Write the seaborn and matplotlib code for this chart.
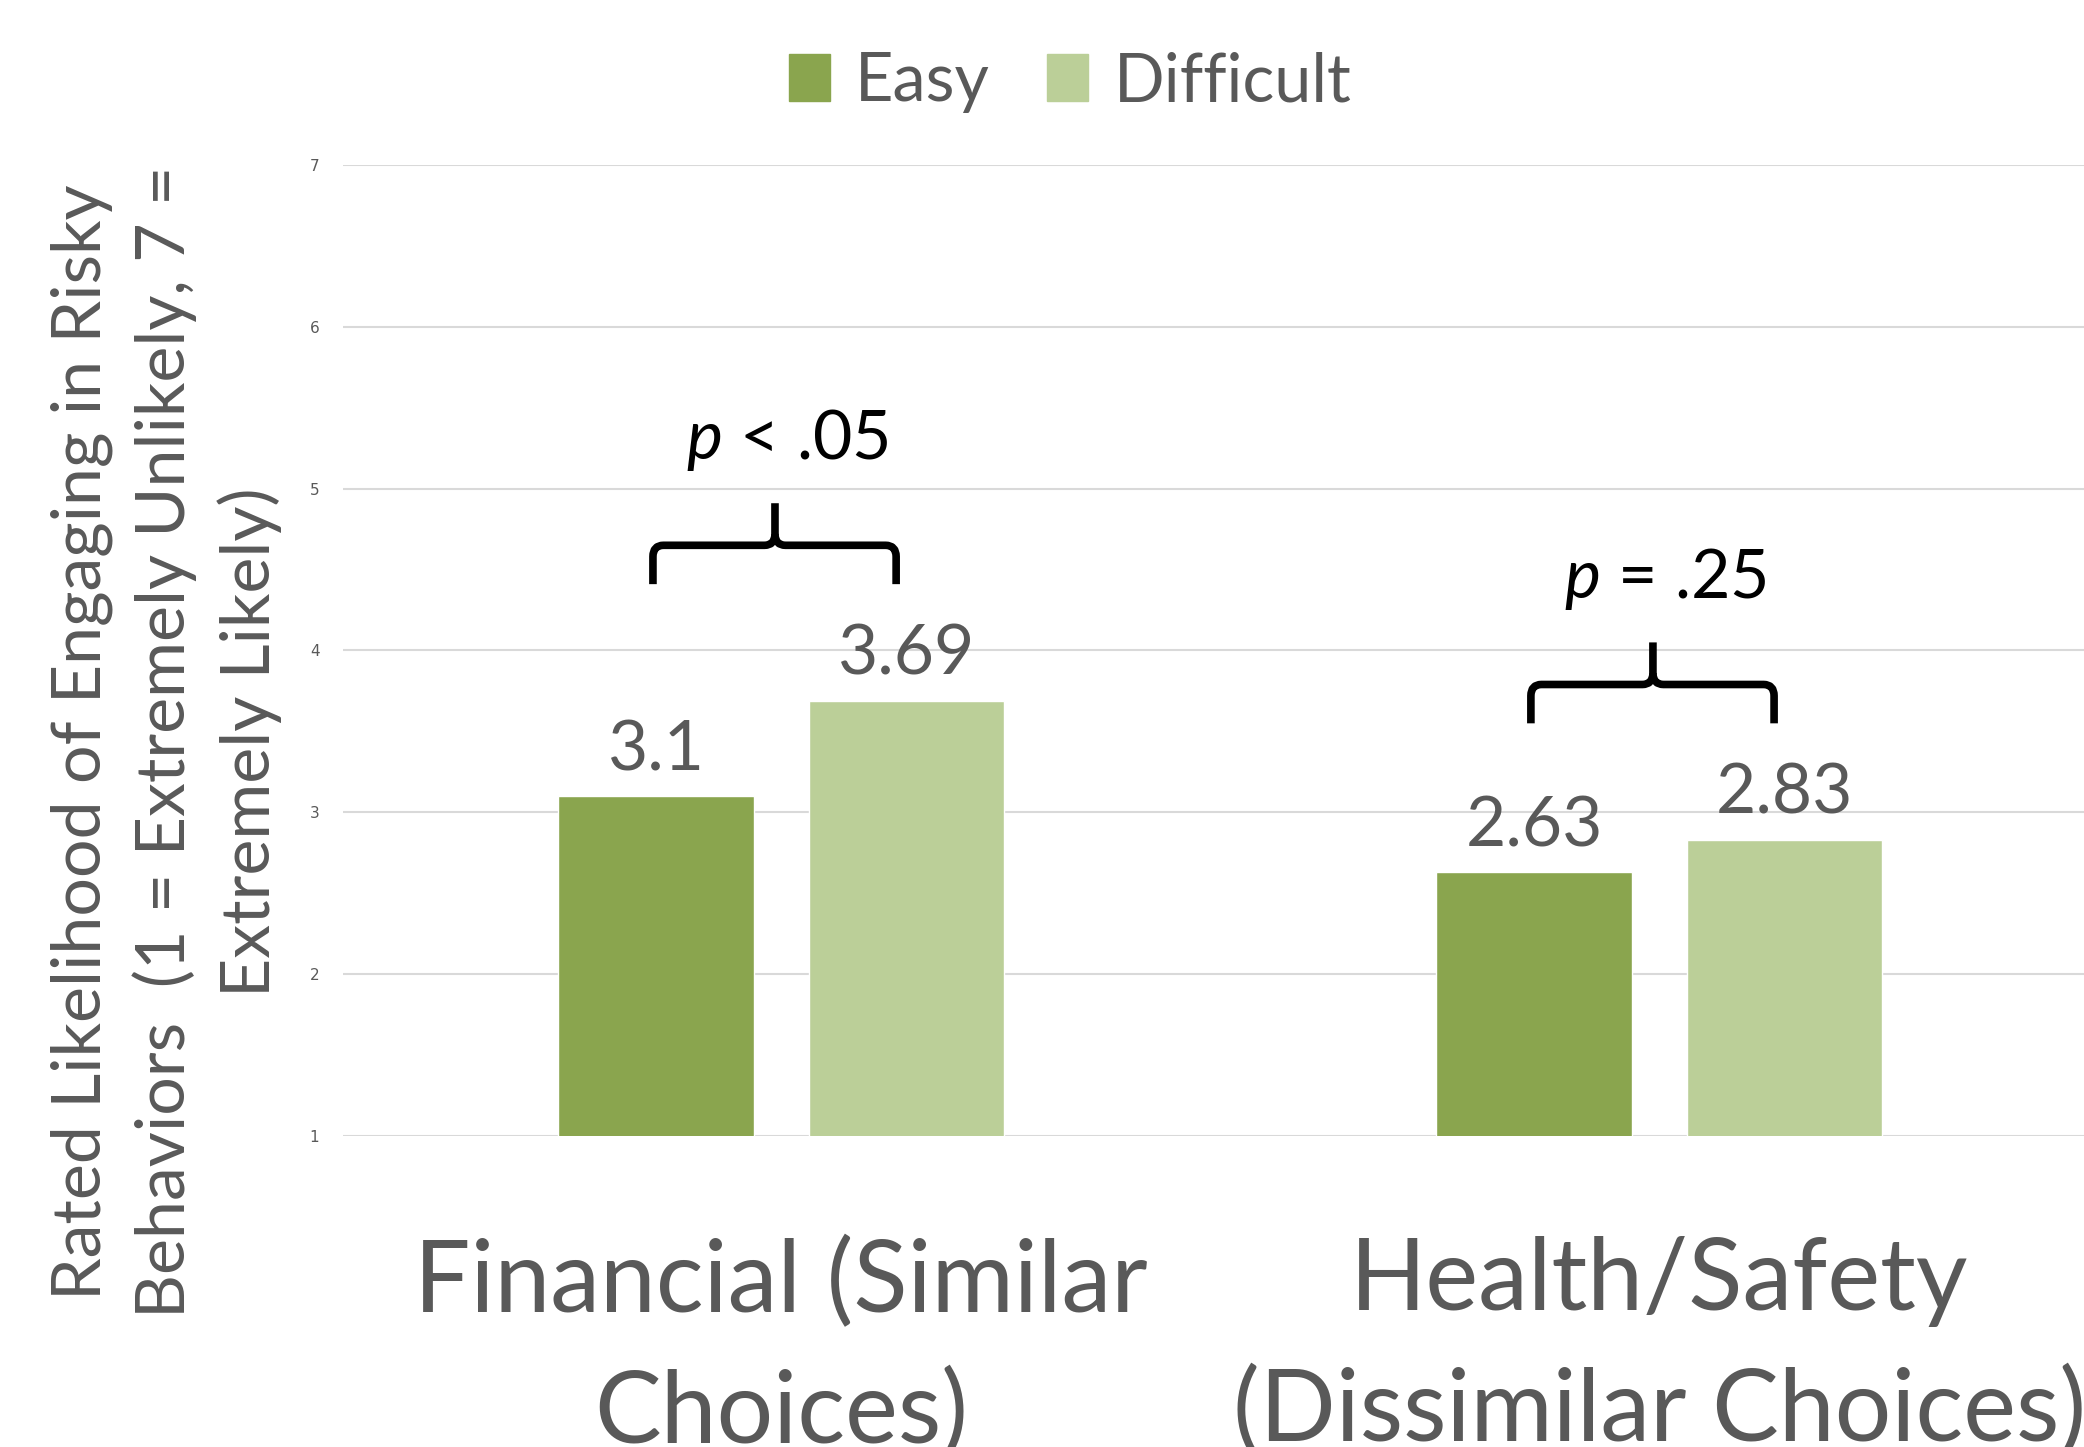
import pandas as pd
import matplotlib.pyplot as plt
import seaborn as sns
from matplotlib.path import Path
from matplotlib.patches import PathPatch

# Style
sns.set_style("white")
plt.rcParams["font.family"] = ["Lato", "DejaVu Sans"]
plt.rcParams["mathtext.fontset"] = "custom"
plt.rcParams["mathtext.it"] = "Lato:italic"
plt.rcParams["mathtext.rm"] = "Lato"

TEXT_GREY = "#595959"

# Data
categories = ["Financial (Similar\nChoices)", "Health/Safety\n(Dissimilar Choices)"]
conditions = ["Easy", "Difficult"]
easy_values = [3.1, 2.63]
difficult_values = [3.69, 2.83]
p_labels = ["$p$ < .05", "$p$ = .25"]
colors = ["#8AA54E", "#BBCF98"]
ylabel = ("Rated Likelihood of Engaging in Risky\n"
          "Behaviors  (1 = Extremely Unlikely, 7 =\n"
          "Extremely Likely)")

df = pd.DataFrame({
    "category": categories * 2,
    "condition": [conditions[0]] * 2 + [conditions[1]] * 2,
    "value": easy_values + difficult_values,
})


def draw_brace(ax, xc, bottom, lw=5.5):
    # curly bracket spanning the two bars of one group
    left, right, tip = xc - 0.146, xc + 0.131, xc - 0.007
    mid, top = bottom + 0.24, bottom + 0.50
    rx, ry = 0.012, 0.07
    verts = [
        (left, bottom), (left, mid - ry), (left, mid), (left + rx, mid),
        (tip - rx, mid), (tip, mid), (tip, mid + ry), (tip, top),
    ]
    codes = [Path.MOVETO, Path.LINETO, Path.CURVE3, Path.CURVE3,
             Path.LINETO, Path.CURVE3, Path.CURVE3, Path.LINETO]
    verts2 = [
        (tip, mid + ry), (tip, mid), (tip + rx, mid),
        (right - rx, mid), (right, mid), (right, mid - ry), (right, bottom),
    ]
    codes2 = [Path.MOVETO, Path.CURVE3, Path.CURVE3,
              Path.LINETO, Path.CURVE3, Path.CURVE3, Path.LINETO]
    for v, c in [(verts, codes), (verts2, codes2)]:
        ax.add_patch(PathPatch(Path(v, c), facecolor="none", edgecolor="black",
                               lw=lw, capstyle="butt", joinstyle="round",
                               clip_on=False))


fig = plt.figure(figsize=(20.84, 14.47), dpi=100)
ax = fig.add_axes([0.1646, 0.2149, 0.8354, 0.6711])

sns.barplot(data=df, x="category", y="value", hue="condition",
            palette=colors, width=0.57, gap=0.22, ax=ax, legend=False,
            saturation=1)

for cont in ax.containers:
    ax.bar_label(cont, fmt="%g", padding=10, fontsize=50, color=TEXT_GREY)

for i, cat in enumerate(categories):
    top_val = max(easy_values[i], difficult_values[i])
    draw_brace(ax, i, top_val + 0.72)
    ax.text(i + 0.007, top_val + 1.61, p_labels[i], ha="center", va="center",
            fontsize=49, color="black")

ax.set_ylim(1, 7)
ax.set_xlim(-0.499, 1.484)
ax.set_yticks(range(1, 8))
ax.yaxis.grid(True, color="#D9D9D9", linewidth=1.5)
ax.set_axisbelow(True)
sns.despine(ax=ax, left=True, bottom=True)
ax.tick_params(axis="y", length=0, pad=17, labelsize=11, labelcolor=TEXT_GREY)
for lab in ax.get_yticklabels():
    lab.set_fontfamily("DejaVu Sans")
ax.tick_params(axis="x", length=0, pad=72, labelsize=72, labelcolor=TEXT_GREY)
for lab in ax.get_xticklabels():
    lab.set_linespacing(1.5)
ax.set_xlabel("")
ax.set_ylabel("")

fig.text(166 / 2084, 1 - 742 / 1447, ylabel, rotation=90, ha="center",
         va="center", fontsize=49, color=TEXT_GREY, linespacing=1.37,
         multialignment="center")

handles = [plt.Rectangle((0, 0), 1, 1, color=c) for c in colors]
fig.legend(handles, conditions, loc="center",
           bbox_to_anchor=(1070 / 2084, 1 - 82 / 1447), ncol=2, frameon=False,
           fontsize=48, labelcolor=TEXT_GREY, handlelength=0.62,
           handleheight=0.7, handletextpad=0.38, columnspacing=0.85)

plt.savefig("out.png", dpi=100)
